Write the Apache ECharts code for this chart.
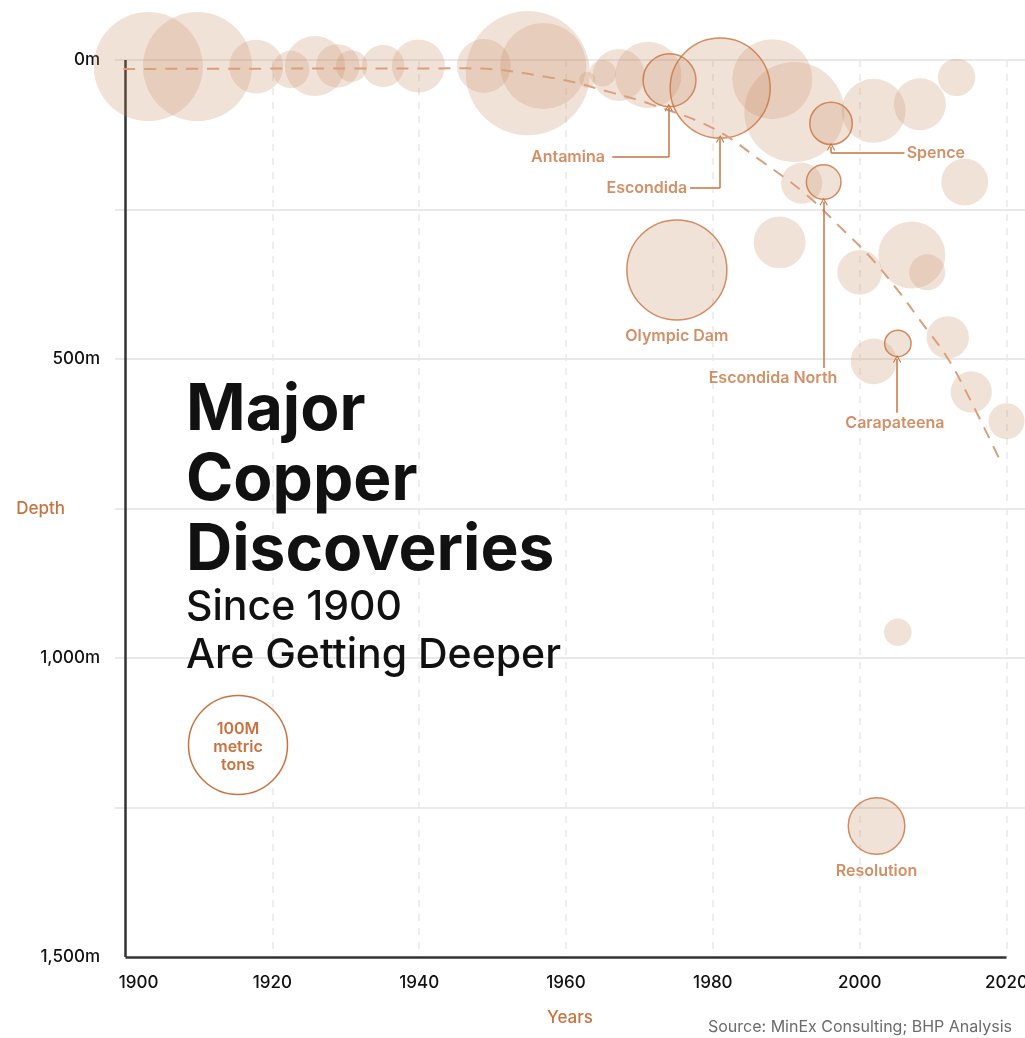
<!DOCTYPE html>
<html lang="en">
<head>
<meta charset="UTF-8">
<title>Major Copper Discoveries</title>
<style>
  html, body { margin: 0; padding: 0; background: #fff; }
  #chart { width: 1025px; height: 1038px; }
</style>
</head>
<body>
<div id="chart"></div>
<script src="https://cdn.jsdelivr.net/npm/echarts@6/dist/echarts.min.js"></script>
<script>
// ---- data ----
// unlabelled discoveries: year, depth (m), size (M metric tons)
var bubbleYear  = [1903.1, 1909.8, 1917.8, 1922.5, 1925.8, 1928.9, 1930.8, 1935.1, 1939.9, 1948.8,
                   1954.8, 1956.9, 1962.9, 1965.0, 1967.2, 1971.2, 1988.1, 1991.1, 2001.9, 2008.2,
                   2013.2, 1992.1, 2014.3, 1989.1, 2000.0, 2007.1, 2009.2, 2012.0, 2001.9, 2015.2,
                   2020.0, 2005.2];
var bubbleDepth = [11, 11, 11, 16, 10, 10, 10, 10, 10, 10,
                   22, 10, 33, 22, 25, 25, 32, 87, 85, 74,
                   29, 206, 204, 305, 355, 326, 355, 464, 504, 555,
                   604, 957];
var bubbleTons  = [119, 119, 29, 14, 36, 19, 10, 18, 28, 29,
                   154, 74, 2.6, 7, 27, 44, 64, 100, 41, 27,
                   14, 17, 22, 27, 20, 45, 13, 18, 21, 17,
                   13, 7.6];

// named mines
var mineNames = ['Antamina', 'Escondida', 'Spence', 'Escondida North', 'Olympic Dam', 'Carapateena', 'Resolution'];
var mineYear  = [1974.1, 1981.0, 1996.1, 1995.1, 1975.1, 2005.2, 2002.3];
var mineDepth = [34, 47, 106, 204, 351, 474, 1281];
var mineTons  = [28, 100, 18, 12, 100, 7, 32];

// trend curve
var trendYear  = [1899.7, 1946.6, 1958.2, 1966.4, 1971.8, 1980.0, 1986.4, 1992.8, 1997.3, 2001.4, 2005.5, 2008.2, 2011.9, 2014.6, 2019.1];
var trendDepth = [15, 14, 30, 55, 75, 114, 167, 226, 279, 329, 390, 435, 497, 557, 669];

// callout labels (the ones with leader lines)
var calloutNames = ['Antamina', 'Escondida', 'Spence', 'Escondida North', 'Carapateena'];
var calloutYear  = [1965.3, 1976.5, 2006.4, 1988.2, 2004.8];
var calloutDepth = [162, 214, 155, 532, 607];
var calloutAlign = ['right', 'right', 'left', 'center', 'center'];
// leader lines: elbow start, elbow corner, arrow tip
var leaderYear   = [[1966.3, 1974.0, 1974.0], [1976.9, 1981.0, 1981.0], [2006.1, 1996.1, 1996.1], [1995.1, 1995.1, 1995.1], [2005.1, 2005.1, 2005.1]];
var leaderDepth  = [[162, 162, 80], [214, 214, 132], [155, 155, 145], [515, 515, 237], [590, 590, 500]];

var yearTicks  = [1900, 1920, 1940, 1960, 1980, 2000, 2020];
var depthTicks = [0, 500, 1000, 1500];

// ---- style ----
var FONT = 'Inter, "Noto Sans", sans-serif';
var ORANGE = '#c8733f';
var FILL = 'rgba(197,136,95,0.3)';
var chevron = 'path://M0,0 L6,7 L5,8 L0,2 L-5,8 L-6,7 Z';

function sizeOf(t) { return 10 * Math.sqrt(t); }   // 100M t -> 100px

var chart = echarts.init(document.getElementById('chart'));

var elbows = [], arrows = [];
for (var i = 0; i < leaderYear.length; i++) {
  var ly = leaderYear[i], ld = leaderDepth[i];
  if (ly[0] !== ly[1]) elbows.push({ coords: [[ly[0], ld[0]], [ly[1], ld[1]]] });
  arrows.push({ coords: [[ly[1], ld[1]], [ly[2], ld[2]]] });
}

var gridMarks = yearTicks.slice(1).map(function (y) {
  return { xAxis: y, lineStyle: { color: '#e9e9e9', type: [7, 7], width: 1.5 } };
});
gridMarks.push([{ coord: [1900, 0] }, { coord: [1900, 1500], lineStyle: { color: '#333', width: 2.5, type: 'solid' } }]);
gridMarks.push([{ coord: [1900, 1500] }, { coord: [2020, 1500], lineStyle: { color: '#333', width: 2.5, type: 'solid' } }]);

var option = {
  animation: false,
  textStyle: { fontFamily: FONT },
  grid: { left: 115, right: 0, top: 60, bottom: 81, containLabel: false, outerBoundsMode: 'none' },
  xAxis: {
    type: 'value',
    min: 1898.57,
    max: 2022.52,
    splitLine: { show: false },
    axisLine: { show: false },
    axisTick: { show: false },
    axisLabel: {
      customValues: yearTicks,
      color: '#111',
      fontSize: 17,
      fontWeight: 500,
      fontFamily: FONT,
      margin: 17,
      formatter: function (v) { return v === 1900 ? '{first|1900}' : String(v); },
      rich: { first: { padding: [0, 0, 0, 26], fontSize: 17, fontWeight: 500, color: '#111', fontFamily: FONT } }
    },
    name: 'Years',
    nameLocation: 'middle',
    nameGap: 52,
    nameMoveOverlap: false,
    nameTextStyle: { color: ORANGE, fontSize: 17, fontFamily: FONT, fontWeight: 500 }
  },
  yAxis: {
    type: 'value',
    inverse: true,
    min: 0,
    max: 1500,
    interval: 250,
    axisLine: { show: false },
    axisTick: { show: false },
    splitLine: {
      lineStyle: { color: ['#e2e2e2', '#e2e2e2', '#e2e2e2', '#e2e2e2', '#e2e2e2', '#e2e2e2', 'rgba(0,0,0,0)'], width: 1.5 }
    },
    axisLabel: {
      color: '#111',
      fontSize: 17,
      fontWeight: 500,
      fontFamily: FONT,
      margin: 15,
      formatter: function (v) {
        if (depthTicks.indexOf(v) < 0) return '';
        return v.toLocaleString('en-US') + 'm';
      }
    },
    name: 'Depth',
    nameLocation: 'middle',
    nameRotate: 0,
    nameGap: 50,
    nameMoveOverlap: false,
    nameTextStyle: { color: ORANGE, fontSize: 17, fontFamily: FONT, fontWeight: 500 }
  },
  series: [
    {
      type: 'scatter',
      name: 'discoveries',
      clip: false,
      z: 2,
      data: bubbleYear.map(function (y, i) { return [y, bubbleDepth[i], bubbleTons[i]]; }),
      symbolSize: function (d) { return sizeOf(d[2]); },
      itemStyle: { color: FILL },
      emphasis: { disabled: true }
    },
    {
      type: 'scatter',
      name: 'mines',
      clip: false,
      z: 3,
      data: mineNames.map(function (n, i) {
        var item = { name: n, value: [mineYear[i], mineDepth[i], mineTons[i]] };
        if (calloutNames.indexOf(n) < 0) {
          item.label = {
            show: true, position: 'bottom', distance: 8, formatter: '{b}',
            color: ORANGE, fontSize: 16, fontWeight: 600, fontFamily: FONT
          };
        }
        return item;
      }),
      symbolSize: function (d) { return sizeOf(d[2]); },
      itemStyle: { color: FILL, borderColor: ORANGE, borderWidth: 1.5 },
      emphasis: { disabled: true }
    },
    {
      type: 'line',
      name: 'trend',
      z: 4,
      data: trendYear.map(function (y, i) { return [y, trendDepth[i]]; }),
      smooth: 0.4,
      showSymbol: false,
      symbol: 'none',
      lineStyle: { color: '#daa07d', width: 2, type: [12, 9] },
      markLine: {
        silent: true,
        symbol: 'none',
        label: { show: false },
        z: 1,
        data: gridMarks
      }
    },
    {
      type: 'lines',
      coordinateSystem: 'cartesian2d',
      z: 5,
      silent: true,
      symbol: 'none',
      lineStyle: { color: ORANGE, width: 1.5, opacity: 1 },
      data: elbows
    },
    {
      type: 'lines',
      coordinateSystem: 'cartesian2d',
      z: 5,
      silent: true,
      symbol: ['none', chevron],
      symbolSize: [10, 8],
      lineStyle: { color: ORANGE, width: 1.5, opacity: 1 },
      data: arrows
    },
    {
      type: 'scatter',
      name: 'callouts',
      z: 6,
      symbolSize: 0,
      silent: true,
      data: calloutNames.map(function (n, i) {
        return {
          name: n,
          value: [calloutYear[i], calloutDepth[i]],
          label: { align: calloutAlign[i] }
        };
      }),
      label: {
        show: true, position: 'inside', formatter: '{b}', verticalAlign: 'middle',
        color: ORANGE, fontSize: 16, fontWeight: 600, fontFamily: FONT
      }
    }
  ],
  graphic: [
    {
      type: 'text', left: 186, top: 376, z: 100,
      style: {
        text: 'Major\nCopper\nDiscoveries', fill: '#111', font: '700 64px ' + FONT,
        lineHeight: 70
      }
    },
    {
      type: 'text', left: 186, top: 584, z: 100,
      style: {
        text: 'Since 1900\nAre Getting Deeper', fill: '#111', font: '500 41px ' + FONT,
        lineHeight: 48
      }
    },
    {
      type: 'circle', shape: { cx: 238, cy: 745, r: 49.5 }, z: 100,
      style: { fill: '#fff', stroke: ORANGE, lineWidth: 1.5 }
    },
    {
      type: 'text', x: 238, y: 747, z: 101,
      style: {
        text: '100M\nmetric\ntons', fill: ORANGE, font: '600 16px ' + FONT,
        align: 'center', verticalAlign: 'middle', lineHeight: 18
      }
    },
    {
      type: 'text', right: 13, top: 1019, z: 100,
      style: { text: 'Source: MinEx Consulting; BHP Analysis', fill: '#6b6b6b', font: '16px ' + FONT }
    }
  ]
};

chart.setOption(option);
</script>
</body>
</html>
